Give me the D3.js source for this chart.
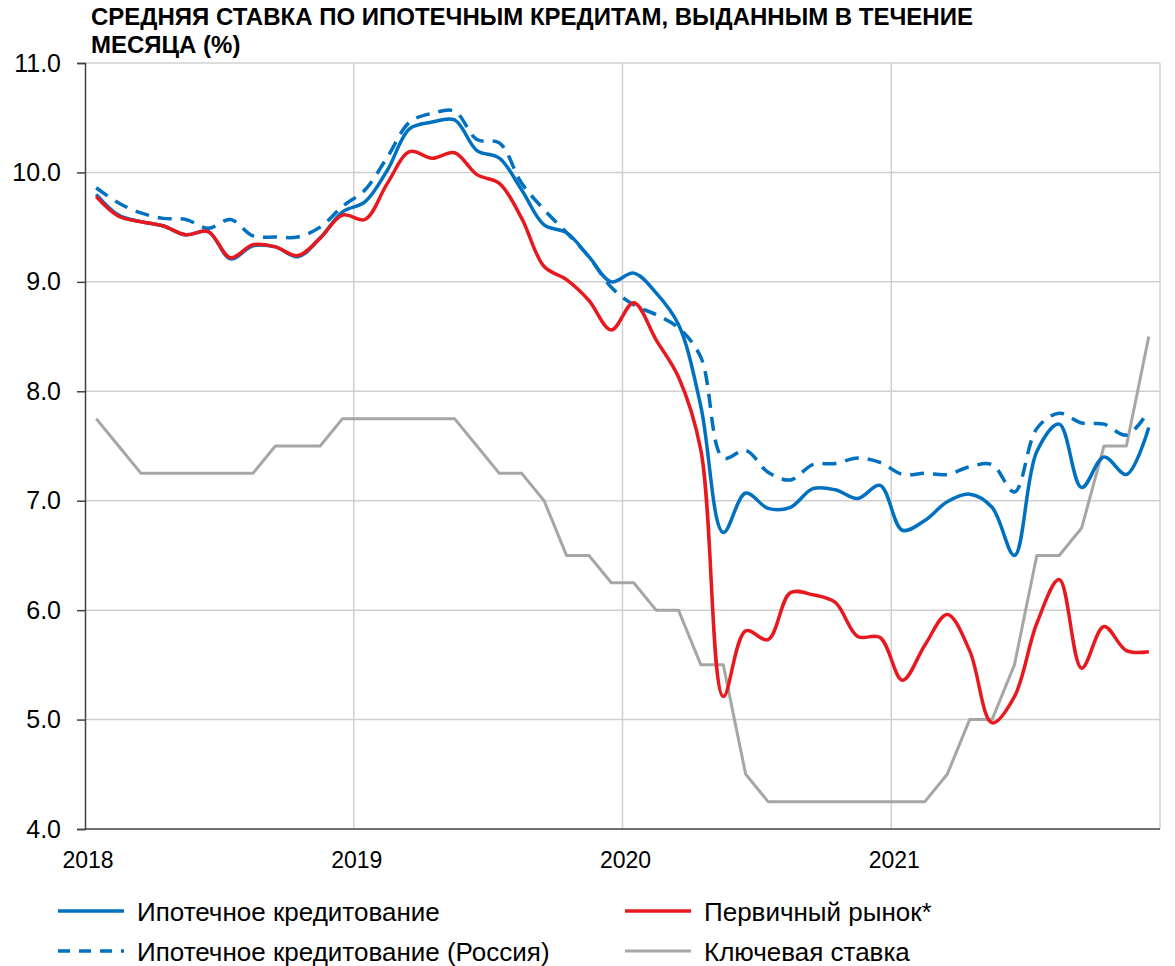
<!DOCTYPE html>
<html>
<head>
<meta charset="utf-8">
<script src="https://cdn.jsdelivr.net/npm/d3@7"></script>
<style>
  html, body { margin: 0; padding: 0; background: #fff; }
  svg text { font-family: "Liberation Sans", Arial, sans-serif; fill: #000; }
</style>
</head>
<body>
<div id="chart"></div>
<script>
const width = 1175;
const height = 966;
const margin = { top: 63, right: 15, bottom: 137, left: 85 };

const years = ["2018", "2019", "2020", "2021"];
const months = d3.range(48);
const yTicks = [4, 5, 6, 7, 8, 9, 10, 11];

// Ипотечное кредитование
const mortgage = [
  9.80, 9.61, 9.55, 9.51, 9.43, 9.46, 9.21, 9.33, 9.32, 9.23, 9.40, 9.64,
  9.73, 10.02, 10.40, 10.46, 10.48, 10.20, 10.13, 9.84, 9.52, 9.45, 9.23, 9.00,
  9.08, 8.90, 8.61, 7.86, 6.71, 7.07, 6.93, 6.94, 7.11, 7.10, 7.02, 7.14,
  6.73, 6.82, 6.99, 7.06, 6.94, 6.50, 7.45, 7.70, 7.12, 7.40, 7.24, 7.67
];
// Ипотечное кредитование (Россия)
const mortgageRussia = [
  9.86, 9.72, 9.63, 9.58, 9.57, 9.49, 9.57, 9.42, 9.41, 9.41, 9.50, 9.69,
  9.84, 10.14, 10.46, 10.54, 10.56, 10.30, 10.27, 9.90, 9.66, 9.45, 9.23, 8.95,
  8.79, 8.70, 8.58, 8.31, 7.39, 7.46, 7.26, 7.19, 7.33, 7.34, 7.39, 7.35,
  7.24, 7.25, 7.24, 7.31, 7.33, 7.08, 7.66, 7.80, 7.71, 7.70, 7.60, 7.82
];
// Первичный рынок*
const primary = [
  9.78, 9.60, 9.55, 9.51, 9.43, 9.46, 9.22, 9.34, 9.32, 9.24, 9.40, 9.61,
  9.57, 9.90, 10.19, 10.13, 10.18, 9.98, 9.90, 9.58, 9.14, 9.02, 8.83, 8.56,
  8.81, 8.47, 8.13, 7.46, 5.21, 5.81, 5.73, 6.16, 6.14, 6.07, 5.76, 5.75,
  5.36, 5.68, 5.96, 5.63, 4.97, 5.21, 5.88, 6.28, 5.47, 5.85, 5.63, 5.62
];
// Ключевая ставка
const keyRate = [
  7.75, 7.50, 7.25, 7.25, 7.25, 7.25, 7.25, 7.25, 7.50, 7.50, 7.50, 7.75,
  7.75, 7.75, 7.75, 7.75, 7.75, 7.50, 7.25, 7.25, 7.00, 6.50, 6.50, 6.25,
  6.25, 6.00, 6.00, 5.50, 5.50, 4.50, 4.25, 4.25, 4.25, 4.25, 4.25, 4.25,
  4.25, 4.25, 4.50, 5.00, 5.00, 5.50, 6.50, 6.50, 6.75, 7.50, 7.50, 8.50
];

const series = [
  { name: "Ключевая ставка", values: keyRate, color: "#A6A6A6", width: 3, dash: null, curve: d3.curveLinear },
  { name: "Ипотечное кредитование (Россия)", values: mortgageRussia, color: "#0070C0", width: 3.5, dash: "14,9", curve: d3.curveCatmullRom },
  { name: "Ипотечное кредитование", values: mortgage, color: "#0070C0", width: 3.5, dash: null, curve: d3.curveCatmullRom },
  { name: "Первичный рынок*", values: primary, color: "#E8191E", width: 3.5, dash: null, curve: d3.curveCatmullRom }
];

const legendItems = [
  { s: series[2], col: 0, row: 0 },
  { s: series[3], col: 1, row: 0 },
  { s: series[1], col: 0, row: 1 },
  { s: series[0], col: 1, row: 1 }
];

const svg = d3.select("#chart").append("svg")
  .attr("width", width)
  .attr("height", height);

const x = d3.scaleBand()
  .domain(months)
  .range([margin.left, width - margin.right])
  .padding(0);

const y = d3.scaleLinear()
  .domain([4, 11])
  .range([height - margin.bottom, margin.top]);

const xMid = i => x(i) + x.bandwidth() / 2;

// Title
const titleLines = ["СРЕДНЯЯ СТАВКА ПО ИПОТЕЧНЫМ КРЕДИТАМ, ВЫДАННЫМ В ТЕЧЕНИЕ", "МЕСЯЦА (%)"];
svg.append("g")
  .selectAll("text")
  .data(titleLines)
  .join("text")
  .attr("x", 91)
  .attr("y", (d, i) => 25 + i * 28)
  .style("font-weight", "bold").style("font-size", "24px")
  .text(d => d);

// Horizontal gridlines
svg.append("g")
  .selectAll("line")
  .data(yTicks.filter(d => d > 4))
  .join("line")
  .attr("x1", margin.left).attr("x2", width - margin.right)
  .attr("y1", d => y(d)).attr("y2", d => y(d))
  .attr("stroke", "#D0D0D0").attr("stroke-width", 1.5);

// Vertical gridlines at year boundaries
const yearBounds = [12, 24, 36];
svg.append("g")
  .selectAll("line")
  .data(yearBounds)
  .join("line")
  .attr("x1", d => x(d)).attr("x2", d => x(d))
  .attr("y1", margin.top).attr("y2", y(4))
  .attr("stroke", "#D0D0D0").attr("stroke-width", 1.5);
svg.append("line")
  .attr("x1", width - margin.right).attr("x2", width - margin.right)
  .attr("y1", margin.top).attr("y2", y(4))
  .attr("stroke", "#D0D0D0").attr("stroke-width", 1.5);

// Y axis
const yAxis = svg.append("g")
  .attr("transform", `translate(${margin.left},0)`)
  .call(d3.axisLeft(y).tickValues(yTicks).tickFormat(d3.format(".1f")).tickSize(8).tickPadding(16));
yAxis.select(".domain").attr("stroke", "#404040").attr("stroke-width", 1.5);
yAxis.selectAll(".tick line").attr("stroke", "#404040").attr("stroke-width", 1.5);
yAxis.selectAll(".tick text")
  .style("font-size", "25px")
  .attr("font-family", null);

// X axis
svg.append("line")
  .attr("x1", margin.left).attr("x2", width - margin.right)
  .attr("y1", y(4)).attr("y2", y(4))
  .attr("stroke", "#404040").attr("stroke-width", 1.5);

svg.append("g")
  .selectAll("text")
  .data(years)
  .join("text")
  .attr("x", (d, i) => x(i * 12) + 3)
  .attr("y", 868)
  .attr("text-anchor", "middle")
  .style("font-size", "23px")
  .text(d => d);

// Lines
const lineGroup = svg.append("g");
series.forEach(s => {
  const line = d3.line()
    .x((d, i) => xMid(i))
    .y(d => y(d))
    .curve(s.curve);
  lineGroup.append("path")
    .datum(s.values)
    .attr("fill", "none")
    .attr("stroke", s.color)
    .attr("stroke-width", s.width)
    .attr("stroke-dasharray", s.dash)
    .attr("stroke-linejoin", "round")
    .attr("d", line);
});

// Legend
const colX = [58, 625];
const rowY = [911, 951];
const legend = svg.append("g")
  .selectAll("g")
  .data(legendItems)
  .join("g")
  .attr("transform", d => `translate(${colX[d.col]},${rowY[d.row]})`);
legend.append("line")
  .attr("x1", 0).attr("x2", 66)
  .attr("stroke", d => d.s.color)
  .attr("stroke-width", d => d.s.width)
  .attr("stroke-dasharray", d => d.s.dash ? "12,9" : null);
legend.append("text")
  .attr("x", 79).attr("y", 10)
  .style("font-size", "26px")
  .text(d => d.s.name);
</script>
</body>
</html>
